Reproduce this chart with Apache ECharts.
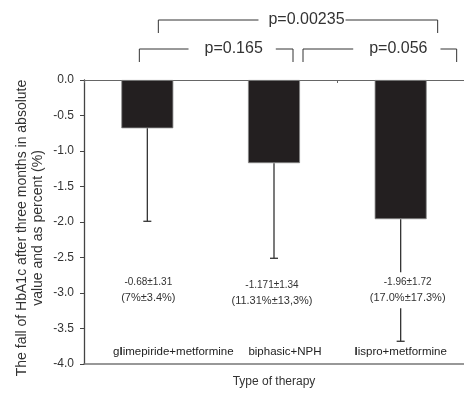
<!DOCTYPE html>
<html>
<head>
<meta charset="utf-8">
<script src="https://cdn.jsdelivr.net/npm/echarts@6/dist/echarts.min.js"></script>
<style>
  html, body { margin: 0; padding: 0; background: #fff; }
  #container { width: 464px; height: 393px; }
</style>
</head>
<body>
<div id="container"></div>
<script>
// values
var categories = ['glimepiride+metformine', 'biphasic+NPH', 'lispro+metformine'];
var meanFall = [-0.68, -1.171, -1.96];
var sdFall = [1.31, 1.34, 1.72];
var meanText = ['-0.68\u00b11.31', '-1.171\u00b11.34', '-1.96\u00b11.72'];
var pctText = ['(7%\u00b13.4%)', '(11.31%\u00b113,3%)', '(17.0%\u00b117.3%)'];
var pairs = [[0, 1], [1, 2], [0, 2]];
var pLabels = ['p=0.165', 'p=0.056', 'p=0.00235'];
var yTitle = ['The fall of HbA1c after three months in absolute', 'value and as percent (%)'];

var FONT = 'Liberation Sans, Arial, sans-serif';

function boldL(s) {
	var k = s.indexOf('l');
	if (k < 0) return '{n|' + s + '}';
	var out = '';
	if (k > 0) out += '{n|' + s.slice(0, k) + '}';
	out += '{b|l}';
	if (k < s.length - 1) out += '{n|' + s.slice(k + 1) + '}';
	return out;
}

var myChart = echarts.init(document.getElementById('container'));

var option = {
	animation: false,
	textStyle: { fontFamily: FONT, color: '#333' },
	grid: { left: 84, top: 80, right: 0, bottom: 28 },
	xAxis: [
		{
			type: 'category',
			data: categories,
			position: 'top',
			axisLine: { onZero: false, lineStyle: { color: '#666', width: 1 } },
			axisTick: { show: true, inside: true, length: 3, lineStyle: { color: '#666' } },
			axisLabel: { show: false }
		},
		{
			type: 'category',
			data: categories,
			position: 'bottom',
			axisLine: { onZero: false, lineStyle: { color: '#777', width: 1.5 } },
			axisTick: { show: false },
			axisLabel: {
				inside: true,
				margin: 6,
				interval: 0,
				formatter: function(v, i) {
					var sp = ['{s0| }', '{s1| }', ''][i];
					return sp + boldL(v);
				},
				rich: {
					n: { fontSize: 11.5, color: '#222', fontFamily: FONT },
					b: { fontSize: 11.5, color: '#222', fontWeight: 'bold', fontFamily: FONT },
					s0: { width: 52 },
					s1: { width: 22 }
				}
			},
			name: 'Type of therapy',
			nameLocation: 'middle',
			nameGap: 12,
			nameTextStyle: { fontSize: 12, color: '#333' }
		}
	],
	yAxis: {
		type: 'value',
		min: -4,
		max: 0,
		interval: 0.5,
		axisLine: { show: true, onZero: false, lineStyle: { color: '#444', width: 1.3 } },
		axisTick: { show: true, length: 4, lineStyle: { color: '#444' } },
		splitLine: { show: false },
		axisLabel: {
			margin: 10,
			fontSize: 12,
			color: '#333',
			formatter: function(v) { return v.toFixed(1); }
		}
	},
	series: [
		{
			name: 'fall',
			type: 'bar',
			xAxisIndex: 0,
			barWidth: 52,
			itemStyle: { color: '#231f20', borderColor: '#888', borderWidth: 0.8 },
			data: meanFall,
			z: 2
		},
		{
			name: 'sd',
			type: 'custom',
			xAxisIndex: 0,
			z: 3,
			data: meanFall.map(function(m, i) { return [i, m, m - sdFall[i]]; }),
			renderItem: function(params, api) {
				var top = api.coord([api.value(0), api.value(1)]);
				var low = api.coord([api.value(0), api.value(2)]);
				var st = { stroke: '#333', lineWidth: 1.3 };
				return {
					type: 'group',
					children: [
						{ type: 'line', shape: { x1: top[0], y1: top[1], x2: low[0], y2: low[1] }, style: st },
						{ type: 'line', shape: { x1: low[0] - 4, y1: low[1], x2: low[0] + 4, y2: low[1] }, style: st }
					]
				};
			}
		},
		{
			name: 'notes',
			type: 'custom',
			xAxisIndex: 0,
			z: 4,
			data: meanFall.map(function(m, i) { return [i, -2.96]; }),
			renderItem: function(params, api) {
				var i = params.dataIndex;
				var p = api.coord([api.value(0), api.value(1) - (i === 1 ? 0.04 : 0)]);
				var dx = i === 2 ? 7 : (i === 1 ? -2 : 1);
				return {
					type: 'text',
					x: p[0] + dx,
					y: p[1],
					style: {
						text: '{a|' + meanText[i] + '}\n{c|' + pctText[i] + '}',
						align: 'center',
						verticalAlign: 'middle',
						backgroundColor: '#fff',
						padding: [2, 2],
						rich: {
							a: { fontSize: 10, lineHeight: 16, fill: '#333', fontFamily: FONT, align: 'center' },
							c: { fontSize: 11, lineHeight: 16, fill: '#333', fontFamily: FONT, align: 'center' }
						}
					}
				};
			}
		}
	]
};
myChart.setOption(option);

// significance brackets above the plot, placed from the category positions
function cx(i) { return myChart.convertToPixel({ xAxisIndex: 0 }, i); }
var bracketStyle = [
	{ dl: -8, dr: 19, y: 49, drop: 13, tdx: 16, pad: [0, 13, 0, 16] },
	{ dl: 29, dr: 56, y: 49, drop: 13, tdx: 17, pad: [0, 13, 0, 16] },
	{ dl: 11, dr: 37, y: 20, drop: 13, tdx: 4, pad: [0, 1, 0, 10] }
];
var elements = [];
pairs.forEach(function(pr, k) {
	var s = bracketStyle[k];
	var xl = cx(pr[0]) + s.dl, xr = cx(pr[1]) + s.dr;
	elements.push({
		type: 'polyline',
		shape: { points: [[xl, s.y + s.drop], [xl, s.y], [xr, s.y], [xr, s.y + s.drop]] },
		style: { stroke: '#333', lineWidth: 1, fill: null },
		z: 10
	});
	elements.push({
		type: 'text',
		x: (xl + xr) / 2 + s.tdx,
		y: s.y,
		style: {
			text: pLabels[k],
			align: 'center',
			verticalAlign: 'middle',
			fontSize: 16,
			fontFamily: FONT,
			fill: '#333',
			backgroundColor: '#fff',
			padding: s.pad
		},
		z: 11
	});
});

// y axis title: one centred text per line, rotated beside the axis
var midY = (myChart.convertToPixel({ yAxisIndex: 0 }, 0) + myChart.convertToPixel({ yAxisIndex: 0 }, -4)) / 2;
yTitle.forEach(function(t, k) {
	elements.push({
		type: 'text',
		x: 22 + k * 16,
		y: midY + 6,
		rotation: Math.PI / 2,
		style: {
			text: t,
			align: 'center',
			verticalAlign: 'middle',
			fontSize: 14,
			fontFamily: FONT,
			fill: '#333'
		}
	});
});
myChart.setOption({ graphic: { elements: elements } });
</script>
</body>
</html>
